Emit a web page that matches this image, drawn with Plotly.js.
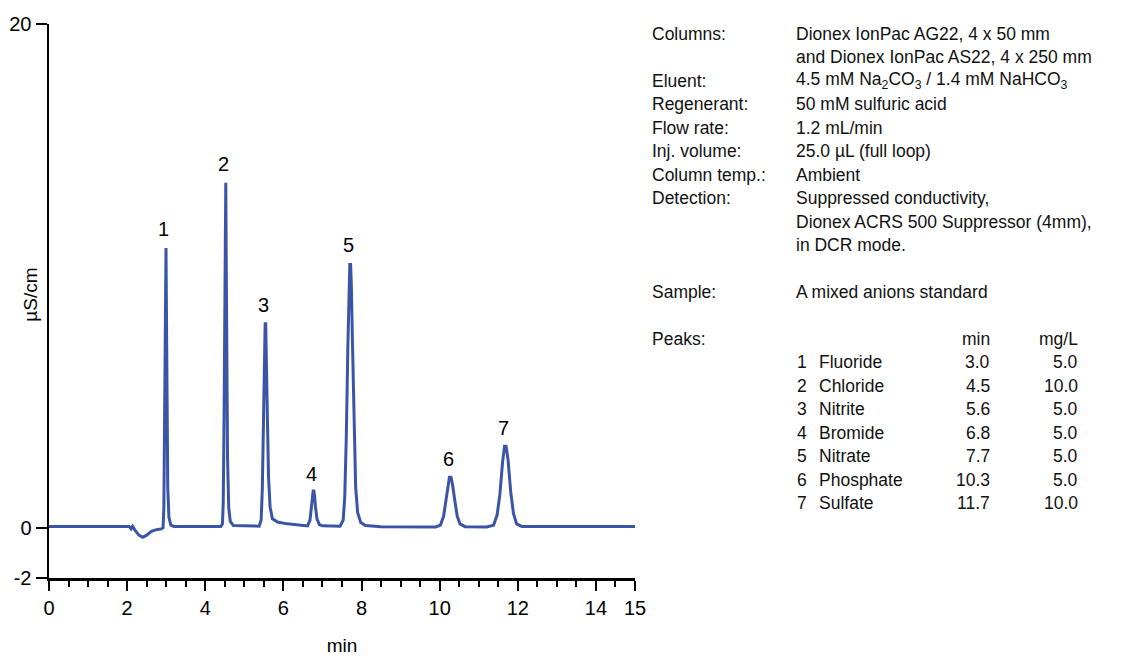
<!DOCTYPE html>
<html>
<head>
<meta charset="utf-8">
<script src="https://cdn.plot.ly/plotly-3.0.1.min.js"></script>
<style>
  html, body { margin: 0; padding: 0; background: #ffffff; }
  #chart { width: 1126px; height: 656px; }
</style>
</head>
<body>
<div id="chart"></div>
<script>
// ---- Chromatogram trace ----
const time = [
  0, 2.05, 2.10, 2.14, 2.20, 2.30, 2.40, 2.50, 2.62, 2.75, 2.88,
  2.92, 2.94, 2.96, 2.975, 2.985, 2.995, 3.005, 3.02, 3.04, 3.07, 3.12, 3.20,
  4.40, 4.44, 4.46, 4.48, 4.50, 4.515, 4.525, 4.535, 4.55, 4.57, 4.60, 4.64, 4.72,
  5.38, 5.43, 5.46, 5.49, 5.515, 5.533, 5.547, 5.565, 5.59, 5.62, 5.66, 5.72, 5.85, 6.10, 6.40, 6.62,
  6.68, 6.72, 6.745, 6.762, 6.778, 6.795, 6.82, 6.86, 6.92, 7.00, 7.45,
  7.53, 7.57, 7.61, 7.65, 7.68, 7.70, 7.72, 7.74, 7.77, 7.81, 7.85, 7.90, 7.98, 8.10, 8.50,
  9.90, 10.02, 10.10, 10.16, 10.21, 10.25, 10.29, 10.33, 10.39, 10.45, 10.52, 10.65,
  11.20, 11.38, 11.47, 11.54, 11.61, 11.66, 11.70, 11.75, 11.82, 11.89, 11.97, 12.10, 15.0
];
const signal = [
  0.05, 0.05, -0.05, 0.05, -0.10, -0.30, -0.38, -0.30, -0.15, -0.08, -0.05,
  0.00, 0.8, 4.0, 8.5, 11.0, 11.1, 8.8, 4.8, 1.6, 0.4, 0.10, 0.05,
  0.05, 0.15, 1.0, 4.2, 10.0, 13.6, 13.7, 11.0, 6.5, 2.8, 0.8, 0.25, 0.08,
  0.06, 0.3, 1.5, 4.2, 7.0, 8.1, 8.1, 7.0, 4.4, 2.0, 0.8, 0.35, 0.22, 0.15, 0.10, 0.07,
  0.3, 0.9, 1.3, 1.45, 1.45, 1.3, 0.85, 0.35, 0.12, 0.07, 0.06,
  0.3, 1.2, 3.6, 7.2, 9.7, 10.45, 10.45, 9.6, 7.2, 3.8, 1.6, 0.6, 0.2, 0.08, 0.04,
  0.03, 0.10, 0.45, 1.05, 1.7, 2.0, 2.0, 1.7, 1.05, 0.45, 0.15, 0.04,
  0.03, 0.10, 0.5, 1.3, 2.6, 3.23, 3.23, 2.7, 1.4, 0.55, 0.15, 0.05, 0.05
];

// ---- Peak labels ----
const peakNum = ['1', '2', '3', '4', '5', '6', '7'];
const peakTime = [2.99, 4.52, 5.54, 6.77, 7.71, 10.27, 11.68];
const peakHeight = [11.2, 13.77, 8.17, 1.47, 10.54, 2.05, 3.28];

// ---- Axis ticks ----
const xTickVals = [0, 2, 4, 6, 8, 10, 12, 14, 15];
const xTickText = ['0', '2', '4', '6', '8', '10', '12', '14', '15'];
const yTickVals = [-2, 0, 20];
const yTickText = ['-2', '0', '20'];

// ---- Conditions text ----
const condLabels = ['Columns:', '', 'Eluent:', 'Regenerant:', 'Flow rate:', 'Inj. volume:',
  'Column temp.:', 'Detection:', '', '', '', 'Sample:'];
const condValues = ['Dionex IonPac AG22, 4 x 50 mm', 'and Dionex IonPac AS22, 4 x 250 mm',
  '4.5 mM Na<sub>2</sub>CO<sub>3</sub> / 1.4 mM NaHCO<sub>3</sub>', '50 mM sulfuric acid',
  '1.2 mL/min', '25.0 µL (full loop)', 'Ambient', 'Suppressed conductivity,',
  'Dionex ACRS 500 Suppressor (4mm),', 'in DCR mode.', '', 'A mixed anions standard'];

// ---- Peak table ----
const peakNames = ['Fluoride', 'Chloride', 'Nitrite', 'Bromide', 'Nitrate', 'Phosphate', 'Sulfate'];
const peakMin = ['3.0', '4.5', '5.6', '6.8', '7.7', '10.3', '11.7'];
const peakMgL = ['5.0', '10.0', '5.0', '5.0', '5.0', '5.0', '10.0'];

// ---- Layout geometry ----
const W = 1126, H = 656;
const ml = 49.3, mr = W - 635.5, mt = 24, mb = H - 578;
const pw = W - ml - mr, ph = H - mt - mb;
const px2x = p => (p - ml) / pw;
const py2y = p => 1 - (p - mt) / ph;
const FONT = '"Liberation Sans", Arial, Helvetica, sans-serif';

const annotations = [];
peakNum.forEach((n, i) => {
  annotations.push({
    x: peakTime[i], y: peakHeight[i], xref: 'x', yref: 'y',
    text: n, showarrow: false, yanchor: 'bottom', xanchor: 'center',
    xshift: -2, yshift: 4, font: { family: FONT, size: 20, color: '#000' }
  });
});

const rowY = r => 34 + r * 23.45;
const txtFont = { family: FONT, size: 17.5, color: '#111' };
condLabels.forEach((t, r) => {
  if (t) annotations.push({ x: px2x(651), y: py2y(rowY(r)), xref: 'paper', yref: 'paper',
    text: t, showarrow: false, xanchor: 'left', yanchor: 'middle', font: txtFont });
  if (condValues[r]) annotations.push({ x: px2x(795), y: py2y(rowY(r)), xref: 'paper', yref: 'paper',
    text: condValues[r], showarrow: false, xanchor: 'left', yanchor: 'middle', font: txtFont });
});
annotations.push({ x: px2x(651), y: py2y(rowY(13)), xref: 'paper', yref: 'paper',
  text: 'Peaks:', showarrow: false, xanchor: 'left', yanchor: 'middle', font: txtFont });
annotations.push({ x: px2x(993), y: py2y(rowY(13)), xref: 'paper', yref: 'paper',
  text: 'min', showarrow: false, xanchor: 'right', yanchor: 'middle', font: txtFont });
annotations.push({ x: px2x(1081), y: py2y(rowY(13)), xref: 'paper', yref: 'paper',
  text: 'mg/L', showarrow: false, xanchor: 'right', yanchor: 'middle', font: txtFont });
peakNames.forEach((name, i) => {
  const y = py2y(rowY(14 + i));
  annotations.push({ x: px2x(796), y, xref: 'paper', yref: 'paper', text: peakNum[i],
    showarrow: false, xanchor: 'left', yanchor: 'middle', font: txtFont });
  annotations.push({ x: px2x(818), y, xref: 'paper', yref: 'paper', text: name,
    showarrow: false, xanchor: 'left', yanchor: 'middle', font: txtFont });
  annotations.push({ x: px2x(993), y, xref: 'paper', yref: 'paper', text: peakMin[i],
    showarrow: false, xanchor: 'right', yanchor: 'middle', font: txtFont });
  annotations.push({ x: px2x(1081), y, xref: 'paper', yref: 'paper', text: peakMgL[i],
    showarrow: false, xanchor: 'right', yanchor: 'middle', font: txtFont });
});

// y-axis title
annotations.push({ x: px2x(30), y: py2y(295), xref: 'paper', yref: 'paper',
  text: 'µS/cm', textangle: -90, showarrow: false, xanchor: 'center', yanchor: 'middle',
  font: { family: FONT, size: 19, color: '#000' } });

const trace = {
  x: time, y: signal, type: 'scatter', mode: 'lines',
  line: { color: '#3a55a6', width: 3, shape: 'linear' },
  hoverinfo: 'x+y', showlegend: false
};

const layout = {
  width: W, height: H,
  margin: { l: ml, r: mr, t: mt, b: mb, pad: 0 },
  paper_bgcolor: '#ffffff', plot_bgcolor: '#ffffff',
  font: { family: FONT, size: 19, color: '#000' },
  showlegend: false,
  xaxis: {
    range: [0, 15], showgrid: false, zeroline: false,
    showline: true, linecolor: '#000', linewidth: 2.5,
    ticks: 'outside', ticklen: 10, tickwidth: 2, tickcolor: '#000',
    tickmode: 'array', tickvals: xTickVals, ticktext: xTickText,
    tickfont: { family: FONT, size: 20, color: '#000' },
    minor: { dtick: 0.5, ticks: 'outside', ticklen: 6, tickwidth: 2, tickcolor: '#000', showgrid: false },
    title: { text: 'min', standoff: 22, font: { family: FONT, size: 19, color: '#000' } },
    automargin: false, fixedrange: true
  },
  yaxis: {
    range: [-2, 20], showgrid: false, zeroline: false,
    showline: true, linecolor: '#000', linewidth: 2.5,
    ticks: 'outside', ticklen: 11, tickwidth: 2, tickcolor: '#000',
    tickmode: 'array', tickvals: yTickVals, ticktext: yTickText,
    tickfont: { family: FONT, size: 20, color: '#000' },
    automargin: false, fixedrange: true
  },
  annotations: annotations
};

Plotly.newPlot('chart', [trace], layout, { displayModeBar: false, staticPlot: true });
</script>
</body>
</html>
